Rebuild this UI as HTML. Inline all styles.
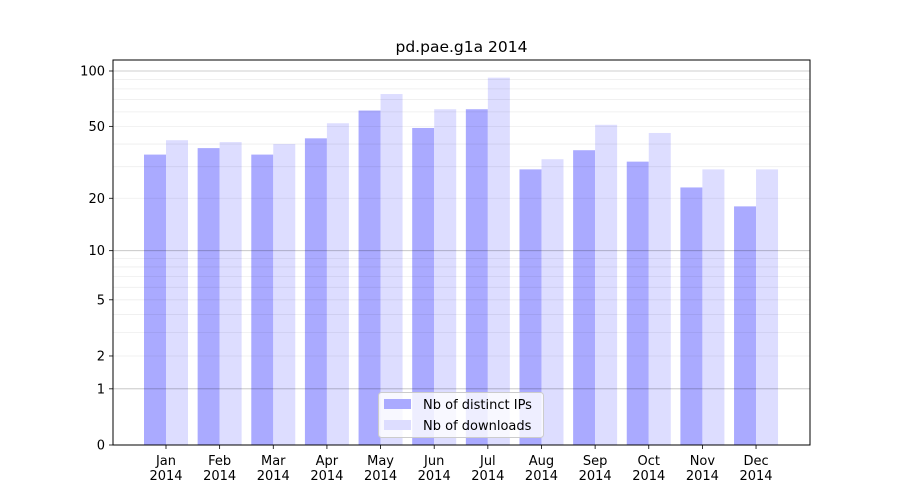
<!DOCTYPE html>
<html><head><meta charset="utf-8"><style>
body{margin:0;background:#fff;font-family:"DejaVu Sans","Liberation Sans",sans-serif;}
</style></head><body>
<svg id="c" width="900" height="500" xmlns="http://www.w3.org/2000/svg"></svg>
<script>
const categories=["Jan\n2014","Feb\n2014","Mar\n2014","Apr\n2014","May\n2014","Jun\n2014","Jul\n2014","Aug\n2014","Sep\n2014","Oct\n2014","Nov\n2014","Dec\n2014"];
const ips=[35,38,35,43,61,49,62,29,37,32,23,18];
const downloads=[42,41,40,52,75,62,92,33,51,46,29,29];
const tickValues=[0,1,2,5,10,20,50,100];
const tickLabels=["0","1","2","5","10","20","50","100"];
const NS="http://www.w3.org/2000/svg";
const svg=document.getElementById('c');
const L=113,R=810,T=60,B=445;
function y(v){return B-186.6*Math.log10(1+v);}
function xc(i){return 166+i*53.64;}
function el(t,a,p){const e=document.createElementNS(NS,t);for(const k in a)e.setAttribute(k,a[k]);(p||svg).appendChild(e);return e;}
// bars
categories.forEach((c,i)=>{
 const b1=el('rect',{x:xc(i)-22,y:y(ips[i]),width:22,height:B-y(ips[i]),fill:'#aaaaff'});
 
 
 const b2=el('rect',{x:xc(i),y:y(downloads[i]),width:22,height:B-y(downloads[i]),fill:'#ddddff'});
 
 
 el('line',{x1:xc(i),x2:xc(i),y1:B,y2:B+4,stroke:'#000','stroke-width':0.8});
 const lines=c.split('\n');
 lines.forEach((s,j)=>{const t=el('text',{x:xc(i),y:B+20+j*15,'text-anchor':'middle','font-size':13,fill:'#000'});t.textContent=s;
 
 });
});
// grid (drawn over bars, translucent)
const minor=[2,3,4,5,6,7,8,9,20,30,40,50,60,70,80,90];
minor.forEach(v=>{const g=el('line',{x1:L,x2:R,y1:y(v),y2:y(v),stroke:'#000','stroke-opacity':0.07,'stroke-width':0.8});

});
[1,10,100].forEach(v=>{const g=el('line',{x1:L,x2:R,y1:y(v),y2:y(v),stroke:'#000','stroke-opacity':0.25,'stroke-width':0.8});

});
// y ticks
tickValues.forEach((v,i)=>{
 el('line',{x1:L-4,x2:L,y1:y(v),y2:y(v),stroke:'#000','stroke-width':0.8});
 const t=el('text',{x:L-8,y:y(v)+4.5,'text-anchor':'end','font-size':13,fill:'#000'});t.textContent=tickLabels[i];
 
 
});
const f=el('rect',{x:L,y:T,width:R-L,height:B-T,fill:'none',stroke:'#000','stroke-width':1});


const ti=el('text',{x:(L+R)/2,y:52,'text-anchor':'middle','font-size':15.5,fill:'#000'});ti.textContent='pd.pae.g1a 2014';


// legend
const lg=el('g',{});


el('rect',{x:378.5,y:392.5,width:165,height:45,rx:3,fill:'#fff','fill-opacity':0.8,stroke:'#ccc'},lg);
el('rect',{x:384,y:399,width:27,height:10,fill:'#aaaaff'},lg);
el('rect',{x:384,y:420,width:27,height:10,fill:'#ddddff'},lg);
const t1=el('text',{x:423,y:409,'font-size':13,fill:'#000'},lg);t1.textContent='Nb of distinct IPs';


const t2=el('text',{x:423,y:430,'font-size':13,fill:'#000'},lg);t2.textContent='Nb of downloads';


</script>
</body></html>
